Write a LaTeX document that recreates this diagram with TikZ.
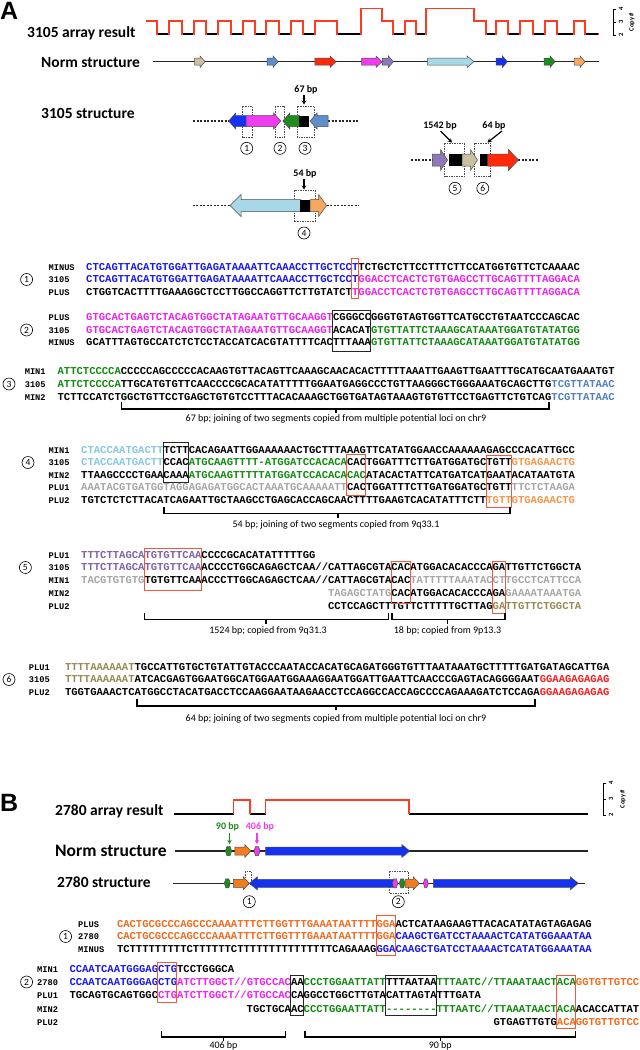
\documentclass[tikz,border=0pt]{standalone}
\usepackage{fontspec}
\setmainfont{Carlito}
\newfontfamily\seqfont{Liberation Mono}
\newfontfamily\arialf{Liberation Sans}
\usetikzlibrary{arrows.meta}
\definecolor{sblue}{HTML}{1818EE}
\definecolor{smag}{HTML}{EE22EE}
\definecolor{sgreen}{HTML}{108A10}
\definecolor{ssteel}{HTML}{4F81BD}
\definecolor{slblue}{HTML}{86C8E2}
\definecolor{sorange}{HTML}{F7964A}
\definecolor{sgray}{HTML}{A6A6A6}
\definecolor{spurple}{HTML}{7E62A8}
\definecolor{solive}{HTML}{948A54}
\definecolor{sred}{HTML}{FF1A1A}
\definecolor{sborange}{HTML}{F26A1B}
\definecolor{boxred}{HTML}{F0583A}
\definecolor{atan}{HTML}{C9C1A0}
\definecolor{asteel}{HTML}{5F8FCB}
\definecolor{ared}{HTML}{FF2A0A}
\definecolor{amag}{HTML}{F03CF0}
\definecolor{apurple}{HTML}{8E78B8}
\definecolor{alblue}{HTML}{A8D8E8}
\definecolor{ablue}{HTML}{1432F0}
\definecolor{agreen}{HTML}{1E8C1E}
\definecolor{aorange}{HTML}{F6A860}
\definecolor{aborange}{HTML}{F27C1E}
\definecolor{tred}{HTML}{FF3B1F}
\newcommand{\sqb}[1]{\textcolor{sblue}{#1}}
\newcommand{\sqm}[1]{\textcolor{smag}{#1}}
\newcommand{\sqg}[1]{\textcolor{sgreen}{#1}}
\newcommand{\sqs}[1]{\textcolor{ssteel}{#1}}
\newcommand{\sql}[1]{\textcolor{slblue}{#1}}
\newcommand{\sqo}[1]{\textcolor{sorange}{#1}}
\newcommand{\sqy}[1]{\textcolor{sgray}{#1}}
\newcommand{\sqp}[1]{\textcolor{spurple}{#1}}
\newcommand{\sqv}[1]{\textcolor{solive}{#1}}
\newcommand{\sqr}[1]{\textcolor{sred}{#1}}
\newcommand{\sqO}[1]{\textcolor{sborange}{#1}}
\newcommand{\hy}{-\kern0pt}
\newcommand{\cw}{6.33}
\newcommand{\srow}[4]{\node[seq] (#1) at (#2,#3+3.4) {#4};}
\newcommand{\lrow}[4]{\node[lab] (#1) at (#2,#3+3) {#4};}
\newcommand{\ibox}[6]{\draw[#1] ({#2+#3*\cw},#5) rectangle ({#2+#4*\cw},#6);}
\newcommand{\brk}[5]{\draw[brk] (#1,#4) -- (#1,#5) -- (#2,#5) -- (#2,#4); \draw[brk] (#3,#5) -- (#3,#5+4);}
\newcommand{\rarr}[7]{\filldraw[fill=#7, draw=black!70, line width=0.5pt] (#1,#3-#4) -- (#2-#6,#3-#4) -- (#2-#6,#3-#5) -- (#2,#3) -- (#2-#6,#3+#5) -- (#2-#6,#3+#4) -- (#1,#3+#4) -- cycle;}
\newcommand{\larr}[7]{\filldraw[fill=#7, draw=black!70, line width=0.5pt] (#2,#3-#4) -- (#1+#6,#3-#4) -- (#1+#6,#3-#5) -- (#1,#3) -- (#1+#6,#3+#5) -- (#1+#6,#3+#4) -- (#2,#3+#4) -- cycle;}
\newcommand{\hexel}[5]{\filldraw[fill=#5, draw=black!70, line width=0.5pt] (#1,#3) -- (#1+1.5,#3-#4) -- (#2-1.5,#3-#4) -- (#2,#3) -- (#2-1.5,#3+#4) -- (#1+1.5,#3+#4) -- cycle;}
\begin{document}
\begin{tikzpicture}[x=1pt,y=-1pt,
  seq/.style={font=\seqfont\bfseries\fontsize{10.55}{12}\selectfont, inner sep=0pt, anchor=base west},
  lab/.style={font=\seqfont\bfseries\fontsize{8.7}{10}\selectfont, inner sep=0pt, anchor=base west},
  circ/.style={circle, draw, line width=0.6pt, inner sep=0pt, minimum size=12pt, font=\fontsize{9.5}{10}\selectfont},
  rbox/.style={draw=boxred, line width=0.9pt},
  kbox/.style={draw=black!85, line width=0.8pt},
  dbox/.style={draw=black!70, dash pattern=on 1.5pt off 1pt, line width=0.5pt},
  dline/.style={draw=black!85, dash pattern=on 2pt off 1.5pt, line width=1.2pt},
  sline/.style={draw=black!85, line width=1.1pt},
  brk/.style={line width=1.2pt},
  blab/.style={font=\fontsize{10}{12}\selectfont, inner sep=0pt, anchor=base},
  hdr/.style={font=\bfseries\fontsize{15.5}{18}\selectfont, inner sep=0pt, anchor=base west},
  bplab/.style={font=\bfseries\fontsize{10}{12}\selectfont, inner sep=0pt},
  tk/.style={-{Stealth[length=4pt,width=4.5pt]}, line width=1.2pt},
  cpy/.style={rotate=90, font=\bfseries\fontsize{6.5}{7}\selectfont, inner sep=0pt}]
\useasboundingbox (0,0) rectangle (640,1050);
\fill[white] (0,0) rectangle (640,1050);

% ================= PANEL A =================
\node[font=\arialf\bfseries\fontsize{25}{25}\selectfont, inner sep=0pt, anchor=west] (pA) at (0,10.5) {A};
\node[hdr] (hA1) at (27,37.3) {3105 array result};
\node[hdr] (hA2) at (41,67) {Norm structure};
\node[hdr] (hA3) at (41,118) {3105 structure};

% array trace
\draw[tred, line width=1.3pt] (145.5,21) -- (157,21) -- (157,34) -- (169,34) -- (169,21) -- (182,21) -- (182,34) -- (194,34) -- (194,21) -- (206,21) -- (206,34) -- (218,34) -- (218,21) -- (231,21) -- (231,34) -- (243,34) -- (243,21) -- (255,21) -- (255,34) -- (266,34) -- (266,21) -- (279,21) -- (279,34) -- (291,34) -- (291,21) -- (303,21) -- (303,34) -- (315,34) -- (315,21) -- (337,21) -- (337,34) -- (361,34) -- (361,8.3) -- (382,8.3) -- (382,21) -- (393,21) -- (393,34) -- (405,34) -- (405,21) -- (416,21) -- (416,34) -- (426,34) -- (426,8.3) -- (474,8.3) -- (474,21) -- (486,21) -- (486,34) -- (496,34) -- (496,21) -- (508,21) -- (508,34) -- (520,34) -- (520,21) -- (533,21) -- (533,34) -- (545,34) -- (545,21) -- (557,21) -- (557,34) -- (574,34) -- (574,21) -- (585,21) -- (585,34) -- (599,34);
\foreach \a/\b in {157/169,182/194,206/218,231/243,255/266,279/291,303/315,337/361,393/405,416/426,486/496,508/520,533/545,557/574,585/599}
  \draw[black, line width=1.3pt] (\a+0.6,34) -- (\b-0.6,34);
% copy number scale A
\draw[line width=0.8pt] (615.5,9) -- (613,9) -- (613,35) -- (615.5,35) (613,22) -- (615.5,22);
\node[cpy] (sa4) at (621,9) {4};
\node[cpy] (sa3) at (621,22) {3};
\node[cpy] (sa2) at (621,35) {2};
\node[cpy] (sac) at (632,22) {Copy \#};

% norm structure A
\draw[sline] (152.5,61.7) -- (599,61.7);
\rarr{194.7}{205}{61.7}{3.5}{5.8}{5}{atan}
\rarr{267}{278}{61.7}{3.5}{5.8}{5}{asteel}
\rarr{314.8}{336}{61.7}{3.5}{5.8}{6}{ared}
\rarr{361.5}{382}{61.7}{3.5}{5.8}{6}{amag}
\rarr{382.4}{393.4}{61.7}{3.5}{5.8}{5}{apurple}
\rarr{427.5}{474}{61.7}{3.5}{5.8}{7}{alblue}
\rarr{496}{507.4}{61.7}{3.5}{5.8}{5}{ablue}
\rarr{544}{555}{61.7}{3.5}{5.8}{5}{agreen}
\rarr{574}{585}{61.7}{3.5}{5.8}{5}{aorange}

% 3105 structure row 1
\draw[dline] (193,121) -- (229,121);
\draw[dline] (328,121) -- (358.6,121);
\draw[dbox] (241.8,106) rectangle (252,137);
\draw[dbox] (275,106) rectangle (284.5,137);
\draw[dbox] (297,106) rectangle (314.5,137);
\larr{228.7}{246}{121}{5.5}{8}{7}{ablue}
\rarr{246}{280.7}{121}{5.5}{8}{7}{amag}
\larr{282.8}{299.5}{121}{5.5}{8}{7}{agreen}
\fill[black] (299,115.5) rectangle (309.4,126.5);
\larr{310}{328}{121}{5.5}{8}{7}{asteel}
\node[bplab] (bp67) at (306,90) {67 bp};
\coordinate (t67) at (304,104.5);
\draw[tk] (304,95) -- (t67);
\node[circ] (s1) at (246.7,148.3) {1};
\node[circ] (s2) at (280,148.3) {2};
\node[circ] (s3) at (305,148.3) {3};

% row 5/6
\draw[dline] (411,160) -- (432.4,160);
\draw[dline] (518,160) -- (539,160);
\draw[dbox] (444.7,143.3) rectangle (464.3,176.7);
\draw[dbox] (474,143.3) rectangle (490.6,176.7);
\rarr{432.4}{447.5}{160}{6}{10.5}{7}{apurple}
\fill[black] (448.8,154) rectangle (462,166);
\rarr{462}{477.5}{160}{6}{10.5}{7}{atan}
\fill[black] (479.5,154) rectangle (487.7,166);
\rarr{487.5}{518.4}{160}{6}{10.5}{10}{ared}
\node[bplab] (bp1542) at (440,126) {1542 bp};
\coordinate (t1542) at (452,142.5);
\draw[tk] (440.6,131) -- (t1542);
\node[bplab] (bp64) at (494,126) {64 bp};
\coordinate (t64) at (487.5,142.5);
\draw[tk] (502,131) -- (t64);
\node[circ] (s5) at (455,188.3) {5};
\node[circ] (s6) at (482.8,188.3) {6};

% row 4
\draw[dline] (192.6,205.5) -- (230,205.5);
\draw[dline] (326.6,205.5) -- (358.6,205.5);
\draw[dbox] (293.9,190) rectangle (314.8,221.7);
\larr{230}{301}{205.5}{6}{11}{11}{alblue}
\fill[black] (300.4,199.5) rectangle (310,211.5);
\rarr{310}{326.6}{205.5}{6}{11}{8}{aorange}
\node[bplab] (bp54) at (305,174) {54 bp};
\coordinate (t54) at (304,189.5);
\draw[tk] (304,179) -- (t54);
\node[circ] (s4) at (304,233) {4};

% ---- block 1 ----
\node[circ] (c1) at (26.6,279.5) {1};
\lrow{l1a}{48.4}{267}{MINUS}
\lrow{l1b}{48.4}{279.5}{3105}
\lrow{l1c}{48.4}{292}{PLUS}
\srow{q1a}{86}{267}{\sqb{CTCAGTTACATGTGGATTGAGATAAAATTCAAACCTTGCTCCT}TCTGCTCTTCCTTTCTTCCATGGTGTTCTCAAAAC}
\srow{q1b}{86}{279.5}{\sqb{CTCAGTTACATGTGGATTGAGATAAAATTCAAACCTTGCTCCT}\sqm{GGACCTCACTCTGTGAGCCTTGCAGTTTTAGGACA}}
\srow{q1c}{86}{292}{CTGGTCACTTTTGAAAGGCTCCTTGGCCAGGTTCTTGTATCT\sqm{TGGACCTCACTCTGTGAGCCTTGCAGTTTTAGGACA}}
\ibox{rbox}{86}{42}{43}{258}{298}

% ---- block 2 ----
\node[circ] (c2) at (26.6,330) {2};
\lrow{l2a}{48.4}{317}{PLUS}
\lrow{l2b}{48.4}{330}{3105}
\lrow{l2c}{48.4}{342.5}{MINUS}
\srow{q2a}{86}{317}{\sqm{GTGCACTGAGTCTACAGTGGCTATAGAATGTTGCAAGGT}CGGGCCGGGTGTAGTGGTTCATGCCTGTAATCCCAGCAC}
\srow{q2b}{86}{330}{\sqm{GTGCACTGAGTCTACAGTGGCTATAGAATGTTGCAAGGT}ACACAT\sqg{GTGTTATTCTAAAGCATAAATGGATGTATATGG}}
\srow{q2c}{86}{342.5}{GCATTTAGTGCCATCTCTCCTACCATCACGTATTTTCACTTTAAA\sqg{GTGTTATTCTAAAGCATAAATGGATGTATATGG}}
\ibox{kbox}{86}{39}{45}{310}{351}

% ---- block 3 ----
\node[circ] (c3) at (9,384) {3};
\lrow{l3a}{24.6}{371}{MIN1}
\lrow{l3b}{24.6}{384}{3105}
\lrow{l3c}{24.6}{397}{MIN2}
\srow{q3a}{57.4}{371}{\sqg{ATTCTCCCCA}CCCCCAGCCCCCACAAGTGTTACAGTTCAAAGCAACACACTTTTTAAATTGAAGTTGAATTTGCATGCAATGAAATGT}
\srow{q3b}{57.4}{384}{\sqg{ATTCTCCCCA}TTGCATGTGTTCAACCCCGCACATATTTTTGGAATGAGGCCCTGTTAAGGGCTGGGAAATGCAGCTTG\sqs{TCGTTATAAC}}
\srow{q3c}{57.4}{397}{TCTTCCATCTGGCTGTTCCTGAGCTGTGTCCTTTACACAAAGCTGGTGATAGTAAAGTGTGTTCCTGAGTTCTGTCAG\sqs{TCGTTATAAC}}
\brk{121.5}{549}{336}{402}{409}
\node[blab] (t3) at (336,421.5) {67 bp; joining of two segments copied from multiple potential loci on chr9};

% ---- block 4 ----
\node[circ] (c4) at (28,462.5) {4};
\lrow{l4a}{48.4}{450}{MIN1}
\lrow{l4b}{48.4}{462.5}{3105}
\lrow{l4c}{48.4}{475}{MIN2}
\lrow{l4d}{48.4}{487.5}{PLU1}
\lrow{l4e}{48.4}{500}{PLU2}
\srow{q4a}{81}{450}{\sql{CTACCAATGACTT}TCTTCACAGAATTGGAAAAAACTGCTTTAAAGTTCATATGGAACCAAAAAAGAGCCCACATTGCC}
\srow{q4b}{81}{462.5}{\sql{CTACCAATGACTT}CCAC\sqg{ATGCAAGTTTT-ATGGATCCACACA}CACTGGATTTCTTGATGGATGCTGTT\sqo{GTGAGAACTG}}
\srow{q4c}{81}{475}{TTAAGCCCCTGAACAAA\sqg{ATGCAAGTTTTTATGGATCCACACACAC}ATACACTATTCATGATCATGAATACATAATGTA}
\srow{q4d}{81}{487.5}{\sqy{AAATACGTGATGGTAGGAGAGATGGCACTAAATGCAAAAATT}CACTGGATTTCTTGATGGATGCTGTT\sqy{TTCTCTAAGA}}
\srow{q4e}{81}{500}{TGTCTCTCTTACATCAGAATTGCTAAGCCTGAGCACCAGCAACTTTTGAAGTCACATATTTCTT\sqo{TGTTGTGAGAACTG}}
\ibox{kbox}{81}{13}{17}{442}{482}
\ibox{rbox}{81}{42}{45}{454}{495}
\ibox{rbox}{81}{64}{68}{455.5}{507}
\brk{164}{510}{338}{507}{513.5}
\node[blab] (t4) at (336,527) {54 bp; joining of two segments copied from 9q33.1};

% ---- block 5 ----
\node[circ] (c5) at (25.4,567.5) {5};
\lrow{l5a}{48.4}{555}{PLU1}
\lrow{l5b}{48.4}{567.5}{3105}
\lrow{l5c}{48.4}{580.5}{MIN1}
\lrow{l5d}{48.4}{593.5}{MIN2}
\lrow{l5e}{48.4}{606.5}{PLU2}
\srow{q5a}{81}{555}{\sqp{TTTCTTAGCATGTGTTCAA}CCCCGCACATATTTTTGG}
\srow{q5b}{81}{567.5}{\sqp{TTTCTTAGCATGTGTTCAA}ACCCCTGGCAGAGCTCAA//CATTAGCGTACACATGGACACACCCAGATTGTTCTGGCTA}
\srow{q5c}{81}{580.5}{\sqy{TACGTGTGTG}TGTGTTCAAACCCTTGGCAGAGCTCAA//CATTAGCGTACAC\sqy{TATTTTTAAATACCTTGCCTCATTCCA}}
\srow{q5d}{{81+39*\cw}}{593.5}{\sqy{TAGAGCTATG}CACATGGACACACCCAGA\sqy{GAAAATAAATGA}}
\srow{q5e}{{81+39*\cw}}{606.5}{CCTCCAGCTTTGTTCTTTTTGCTTAG\sqv{GATTGTTCTGGCTA}}
\ibox{rbox}{81}{10}{19}{548}{590}
\ibox{rbox}{81}{49}{52}{561}{603}
\ibox{rbox}{81}{65}{67}{561}{613}
\brk{144.5}{388.5}{266}{613}{619.5}
\brk{392}{505}{447.5}{613}{619.5}
\node[blab] (t5a) at (268,633) {1524 bp; copied from 9q31.3};
\node[blab] (t5b) at (447.5,633) {18 bp; copied from 9p13.3};

% ---- block 6 ----
\node[circ] (c6) at (9,679.5) {6};
\lrow{l6a}{28.7}{667}{PLU1}
\lrow{l6b}{28.7}{679.5}{3105}
\lrow{l6c}{28.7}{692}{PLU2}
\srow{q6a}{64.8}{667}{\sqv{TTTTAAAAAAT}TGCCATTGTGCTGTATTGTACCCAATACCACATGCAGATGGGTGTTTAATAAATGCTTTTTGATGATAGCATTGA}
\srow{q6b}{64.8}{679.5}{\sqv{TTTTAAAAAAT}ATCACGAGTGGAATGGCATGGAATGGAAAGGAATGGATTGAATTCAACCCGAGTACAGGGGAAT\sqr{GGAAGAGAGAG}}
\srow{q6c}{64.8}{692}{TGGTGAAACTCATGGCCTACATGACCTCCAAGGAATAAGAACCTCCAGGCCACCAGCCCCAGAAAGATCTCCAGA\sqr{GGAAGAGAGAG}}
\brk{137}{535}{336}{699}{706}
\node[blab] (t6) at (336,721) {64 bp; joining of two segments copied from multiple potential loci on chr9};

% ================= PANEL B =================
\node[font=\arialf\bfseries\fontsize{25}{25}\selectfont, inner sep=0pt, anchor=west] (pB) at (0,803) {B};
\node[hdr] (hB1) at (55,815) {2780 array result};
\node[hdr, font=\bfseries\fontsize{17.5}{20}\selectfont] (hB2) at (55,856.6) {Norm structure};
\node[hdr] (hB3) at (57,887.3) {2780 structure};

% trace B
\draw[black, line width=1.3pt] (174,814) -- (233.6,814) (250,814) -- (265.6,814) (409,814) -- (588,814);
\draw[tred, line width=1.3pt] (233.6,814) -- (233.6,800) -- (250,800) -- (250,814) (265.6,814) -- (265.6,800) -- (409,800) -- (409,814);
\draw[line width=0.8pt] (605.5,783) -- (603,783) -- (603,815) -- (605.5,815) (603,799) -- (605.5,799);
\node[cpy] (sb4) at (611,783) {4};
\node[cpy] (sb3) at (611,799) {3};
\node[cpy] (sb2) at (611,815) {2};
\node[cpy] (sbc) at (623,799) {Copy \#};

% norm B
\node[bplab, text=agreen] (bp90) at (227.5,827) {90 bp};
\node[bplab, text=amag] (bp406) at (260,827) {406 bp};
\coordinate (t90) at (229.5,844);
\coordinate (t406) at (257,844);
\draw[tk, agreen] (229.5,833) -- (t90);
\draw[tk, amag] (257,833) -- (t406);
\draw[sline] (175.4,851) -- (588,851);
\hexel{225.4}{231.6}{851}{4.5}{agreen}
\rarr{234.8}{250.8}{851}{4}{6.5}{6}{aborange}
\hexel{254}{260}{851}{4.5}{amag}
\rarr{265.6}{409.8}{851}{4}{6.5}{8}{ablue}

% 2780 structure
\draw[sline] (173,883.3) -- (585,883.3);
\draw[dbox] (245,871.5) rectangle (251.7,884);
\draw[dbox] (389.3,871.7) rectangle (408.3,893.3);
\hexel{224.3}{230.3}{883.3}{4.5}{agreen}
\rarr{233.3}{249.3}{883.3}{4}{6.5}{6}{aborange}
\larr{249.3}{393.3}{883.3}{4}{6.5}{8}{ablue}
\hexel{392.3}{397.8}{883.3}{4.5}{amag}
\hexel{399.3}{405}{883.3}{4.5}{agreen}
\rarr{405}{419.3}{883.3}{4}{6.5}{6}{aborange}
\hexel{423.3}{428.3}{883.3}{4.5}{amag}
\rarr{433.3}{578.3}{883.3}{4}{6.5}{8}{ablue}
\node[circ] (sb1) at (249.3,901.7) {1};
\node[circ] (sb2c) at (398.3,901.7) {2};

% ---- B block 1 ----
\node[circ] (d1) at (65.6,936.5) {1};
\lrow{m1a}{78}{924}{PLUS}
\lrow{m1b}{78}{936.5}{2780}
\lrow{m1c}{78}{949}{MINUS}
\srow{r1a}{116.8}{924}{\sqO{CACTGCGCCCAGCCCAAAATTTCTTGGTTTGAAATAATTTTGGA}ACTCATAAGAAGTTACACATATAGTAGAGAG}
\srow{r1b}{116.8}{936.5}{\sqO{CACTGCGCCCAGCCCAAAATTTCTTGGTTTGAAATAATTTTGGA}\sqb{CAAGCTGATCCTAAAACTCATATGGAAATAA}}
\srow{r1c}{116.8}{949}{TCTTTTTTTTTCTTTTTTCTTTTTTTTTTTTTTTCAGAAAG\sqb{GGACAAGCTGATCCTAAAACTCATATGGAAATAA}}
\ibox{rbox}{116.8}{41}{44}{915}{955}

% ---- B block 2 ----
\node[circ] (d2) at (26.6,982) {2};
\lrow{m2a}{37}{969}{MIN1}
\lrow{m2b}{37}{982}{2780}
\lrow{m2c}{37}{995.5}{PLU1}
\lrow{m2d}{37}{1009}{MIN2}
\lrow{m2e}{37}{1022}{PLU2}
\srow{r2a}{69.3}{969}{\sqb{CCAATCAATGGGAGCTG}TCCTGGGCA}
\srow{r2b}{69.3}{982}{\sqb{CCAATCAATGGGAGCTG}\sqm{ATCTTGGCT//GTGCCAC}AA\sqg{CCCTGGAATTATT}TTTAATAA\sqg{TTTAATC//TTAAATAACTACA}\sqO{GGTGTTGTCC}}
\srow{r2c}{69.3}{995.5}{TGCAGTGCAGTGGC\sqm{CTGATCTTGGCT//GTGCCAC}CAGGCCTGGCTTGTACATTAGTATTTGATA}
\srow{r2d}{{69.3+28*\cw}}{1009}{TGCTGCAAC\sqg{CCCTGGAATTATT\hy\hy\hy\hy\hy\hy\hy\hy{}TTTAATC//TTAAATAACTACA}ACACCATTAT}
\srow{r2e}{{69.3+67*\cw}}{1022}{GTGAGTTGTG\sqO{ACAGGTGTTGTCC}}
\ibox{rbox}{69.3}{14}{17}{962}{1002}
\ibox{kbox}{69.3}{35}{37}{975}{1015}
\ibox{kbox}{69.3}{50}{58}{975}{1015}
\ibox{rbox}{69.3}{77}{80}{975}{1028}
\brk{161.5}{285.5}{223.5}{1031}{1037}
\brk{305}{575.5}{440.2}{1031}{1037}
\node[blab] (t7a) at (223.5,1048.5) {406 bp};
\node[blab] (t7b) at (440.2,1048.5) {90 bp};
\end{tikzpicture}
\end{document}
